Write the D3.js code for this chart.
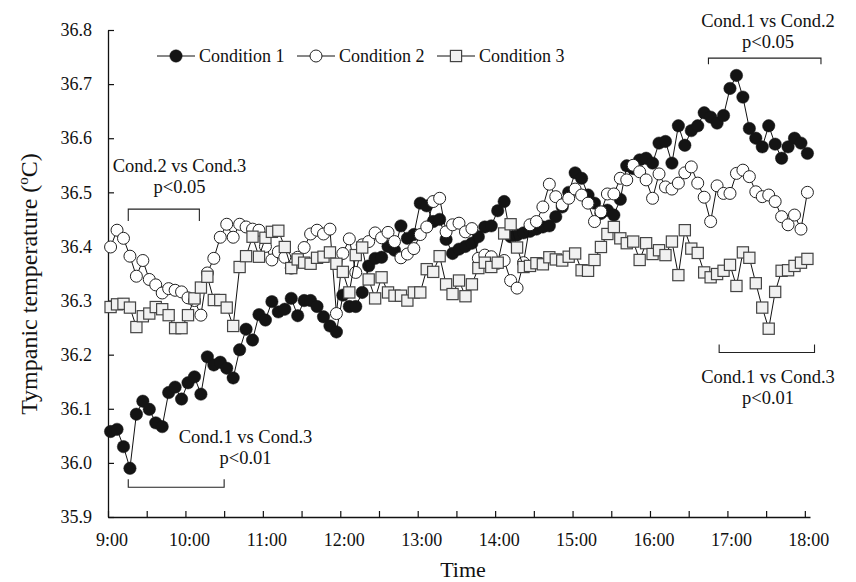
<!DOCTYPE html>
<html>
<head>
<meta charset="utf-8">
<script src="https://cdn.jsdelivr.net/npm/d3@7"></script>
<style>
    body { margin: 0; background: #fff; }
    text { font-family: "Liberation Serif", "Times New Roman", serif; fill: #111; }
</style>
</head>
<body>
<script>

//sampling schedule: minutes after 9:00 of the first reading, and the interval
var firstMinute = 2,
    stepMinutes = 5;

//x tick labels (every 60 min), ticks every 30 min
var hourLabels = ["9:00", "10:00", "11:00", "12:00", "13:00", "14:00", "15:00", "16:00", "17:00", "18:00"];
var yTicks = [35.9, 36.0, 36.1, 36.2, 36.3, 36.4, 36.5, 36.6, 36.7, 36.8];

var seriesNames = ["Condition 1", "Condition 2", "Condition 3"];

//tympanic temperature, condition 1 (filled circles)
var cond1 = [36.058, 36.062, 36.030, 35.990, 36.090, 36.114, 36.099, 36.074, 36.067, 36.130,
    36.140, 36.118, 36.148, 36.159, 36.127, 36.196, 36.181, 36.186, 36.175, 36.157,
    36.209, 36.247, 36.227, 36.274, 36.264, 36.298, 36.279, 36.284, 36.304, 36.272,
    36.300, 36.300, 36.289, 36.270, 36.253, 36.242, 36.310, 36.289, 36.289, 36.315,
    36.364, 36.378, 36.380, 36.400, 36.393, 36.438, 36.415, 36.422, 36.480, 36.475,
    36.446, 36.450, 36.413, 36.387, 36.395, 36.400, 36.406, 36.418, 36.436, 36.438,
    36.466, 36.483, 36.418, 36.421, 36.425, 36.428, 36.432, 36.436, 36.438, 36.455,
    36.473, 36.500, 36.536, 36.526, 36.495, 36.480, 36.461, 36.467, 36.458, 36.487,
    36.549, 36.544, 36.560, 36.563, 36.554, 36.591, 36.594, 36.554, 36.623, 36.587,
    36.614, 36.623, 36.647, 36.639, 36.628, 36.642, 36.692, 36.716, 36.676, 36.618,
    36.600, 36.584, 36.623, 36.589, 36.563, 36.584, 36.600, 36.591, 36.572];

//condition 2 (open circles)
var cond2 = [36.399, 36.430, 36.415, 36.382, 36.345, 36.374, 36.339, 36.329, 36.314, 36.322,
    36.319, 36.316, 36.305, 36.300, 36.273, 36.351, 36.378, 36.417, 36.441, 36.417,
    36.441, 36.436, 36.432, 36.430, 36.400, 36.375, 36.390, 36.380, 36.360, 36.380,
    36.398, 36.423, 36.430, 36.423, 36.432, 36.276, 36.387, 36.414, 36.352, 36.403,
    36.409, 36.425, 36.416, 36.426, 36.409, 36.379, 36.386, 36.396, 36.422, 36.436,
    36.483, 36.489, 36.427, 36.440, 36.443, 36.427, 36.433, 36.378, 36.384, 36.381,
    36.369, 36.374, 36.337, 36.323, 36.370, 36.440, 36.446, 36.473, 36.515, 36.492,
    36.477, 36.489, 36.506, 36.495, 36.480, 36.446, 36.464, 36.497, 36.497, 36.526,
    36.523, 36.550, 36.538, 36.523, 36.489, 36.534, 36.510, 36.506, 36.517, 36.536,
    36.547, 36.517, 36.491, 36.446, 36.512, 36.498, 36.498, 36.535, 36.541, 36.529,
    36.501, 36.492, 36.495, 36.483, 36.455, 36.440, 36.458, 36.432, 36.500];

//condition 3 (squares)
var cond3 = [36.288, 36.293, 36.294, 36.287, 36.251, 36.271, 36.276, 36.288, 36.284, 36.273,
    36.249, 36.249, 36.273, 36.304, 36.324, 36.344, 36.301, 36.301, 36.287, 36.253,
    36.362, 36.382, 36.418, 36.381, 36.416, 36.427, 36.429, 36.399, 36.360, 36.376,
    36.370, 36.368, 36.379, 36.381, 36.389, 36.368, 36.353, 36.315, 36.384, 36.398,
    36.339, 36.304, 36.343, 36.315, 36.309, 36.309, 36.300, 36.315, 36.315, 36.358,
    36.353, 36.382, 36.330, 36.312, 36.337, 36.308, 36.330, 36.360, 36.370, 36.362,
    36.370, 36.424, 36.441, 36.398, 36.362, 36.364, 36.369, 36.367, 36.380, 36.376,
    36.374, 36.381, 36.387, 36.356, 36.355, 36.375, 36.399, 36.423, 36.436, 36.415,
    36.406, 36.409, 36.375, 36.406, 36.386, 36.393, 36.384, 36.409, 36.347, 36.430,
    36.396, 36.388, 36.352, 36.343, 36.349, 36.355, 36.366, 36.327, 36.389, 36.379,
    36.332, 36.287, 36.248, 36.316, 36.355, 36.356, 36.364, 36.370, 36.377];

//significance brackets: time span (min after 9:00), bracket level (degC), label lines
var bracketSpans = [[15.7, 70.8], [15.7, 90], [465.3, 552.5], [473.6, 547.5]];
var bracketLevels = [36.469, 35.955, 36.748, 36.204];
var bracketTexts = [
    ["Cond.2 vs Cond.3", "p<0.05"],
    ["Cond.1 vs Cond.3", "p<0.01"],
    ["Cond.1 vs Cond.2", "p<0.05"],
    ["Cond.1 vs Cond.3", "p<0.01"]
];

window.onload = drawChart();

function drawChart(){

    //svg frame
    var width = 856,
        height = 582;

    var svg = d3.select("body")
        .append("svg")
        .attr("width", width)
        .attr("height", height);

    svg.append("rect")
        .attr("width", width)
        .attr("height", height)
        .attr("fill", "#fff");

    //scales
    var x = d3.scaleLinear()
        .domain([0, 544])
        .range([108, 810]);

    var y = d3.scaleLinear()
        .domain([35.9, 36.8])
        .range([517, 30]);

    //times of readings
    var times = cond1.map(function(d, i){ return firstMinute + i * stepMinutes; });

    //x axis
    var xAxis = d3.axisBottom(x)
        .tickValues(d3.range(0, 541, 30))
        .tickSizeInner(-6)
        .tickSizeOuter(0)
        .tickPadding(16)
        .tickFormat(function(d){ return d % 60 === 0 ? hourLabels[d / 60] : ""; });

    var gx = svg.append("g")
        .attr("transform", "translate(0," + y(35.9) + ")")
        .call(xAxis);

    gx.selectAll(".tick text").attr("dx", 3.5);

    //y axis
    var yAxis = d3.axisLeft(y)
        .tickValues(yTicks)
        .tickSizeInner(-6)
        .tickSizeOuter(0)
        .tickPadding(16)
        .tickFormat(d3.format(".1f"));

    var gy = svg.append("g")
        .attr("transform", "translate(" + x(0) + ",0)")
        .call(yAxis);

    [gx, gy].forEach(function(g){
        g.select(".domain").attr("stroke", "#111").attr("stroke-width", 1.3);
        g.selectAll(".tick line").attr("stroke", "#111").attr("stroke-width", 1.2);
        g.selectAll("text")
            .style("font-family", "Liberation Serif")
            .style("font-size", "18px")
            .attr("fill", "#111");
    });

    //axis titles
    svg.append("text")
        .attr("x", 463)
        .attr("y", 577)
        .attr("text-anchor", "middle")
        .style("font-size", "22px")
        .text("Time");

    var yTitle = svg.append("text")
        .attr("transform", "translate(37,284) rotate(-90)")
        .attr("text-anchor", "middle")
        .style("font-size", "24px");
    yTitle.append("tspan").text("Tympanic temperature (");
    yTitle.append("tspan").attr("dy", -9).style("font-size", "15px").text("o");
    yTitle.append("tspan").attr("dy", 9).text("C)");

    //line generator
    var line = d3.line()
        .x(function(d, i){ return x(times[i]); })
        .y(function(d){ return y(d); });

    var allSeries = [cond1, cond2, cond3];

    allSeries.forEach(function(values, s){
        svg.append("path")
            .datum(values)
            .attr("fill", "none")
            .attr("stroke", "#111")
            .attr("stroke-width", 1)
            .attr("d", line);

        var g = svg.append("g");
        values.forEach(function(v, i){
            drawMarker(g, s, x(times[i]), y(v));
        });
    });

    //markers: 0 filled circle, 1 open circle, 2 grey square
    function drawMarker(g, s, cx, cy){
        if (s === 0){
            g.append("circle").attr("cx", cx).attr("cy", cy).attr("r", 6.2)
                .attr("fill", "#141414").attr("stroke", "#141414").attr("stroke-width", 0.5);
        } else if (s === 1){
            g.append("circle").attr("cx", cx).attr("cy", cy).attr("r", 6)
                .attr("fill", "#fff").attr("stroke", "#222").attr("stroke-width", 1);
        } else {
            g.append("rect").attr("x", cx - 5.6).attr("y", cy - 5.6)
                .attr("width", 11.2).attr("height", 11.2)
                .attr("fill", "#f1f1f1").attr("stroke", "#444").attr("stroke-width", 1.2);
        }
    }

    //legend
    var legendX = [157, 297, 437];
    seriesNames.forEach(function(name, s){
        var lg = svg.append("g");
        lg.append("line")
            .attr("x1", legendX[s]).attr("x2", legendX[s] + 38)
            .attr("y1", 56).attr("y2", 56)
            .attr("stroke", "#111").attr("stroke-width", 1);
        drawMarker(lg, s, legendX[s] + 19, 56);
        lg.append("text")
            .attr("x", legendX[s] + 42)
            .attr("y", 62)
            .style("font-size", "18px")
            .text(name);
    });

    //significance brackets
    var tickDir = [1, -1, 1, -1]; //1 = ticks down, -1 = ticks up
    var tickLen = [12, 8, 6, 8];
    var textPos = [ //centre x (px) and baselines of the two label lines
        [179.5, 172, 192.5],
        [245.5, 443, 463.5],
        [768, 27, 47.5],
        [768, 383, 403.5]
    ];

    bracketSpans.forEach(function(span, b){
        var x1 = x(span[0]),
            x2 = x(span[1]),
            yl = y(bracketLevels[b]),
            yt = yl + tickDir[b] * tickLen[b];

        svg.append("path")
            .attr("d", "M" + x1 + "," + yt + "V" + yl + "H" + x2 + "V" + yt)
            .attr("fill", "none")
            .attr("stroke", "#222")
            .attr("stroke-width", 1.1);

        bracketTexts[b].forEach(function(t, k){
            svg.append("text")
                .attr("x", textPos[b][0])
                .attr("y", textPos[b][k + 1])
                .attr("text-anchor", "middle")
                .style("font-size", "18.5px")
                .text(t);
        });
    });
};

</script>
</body>
</html>
